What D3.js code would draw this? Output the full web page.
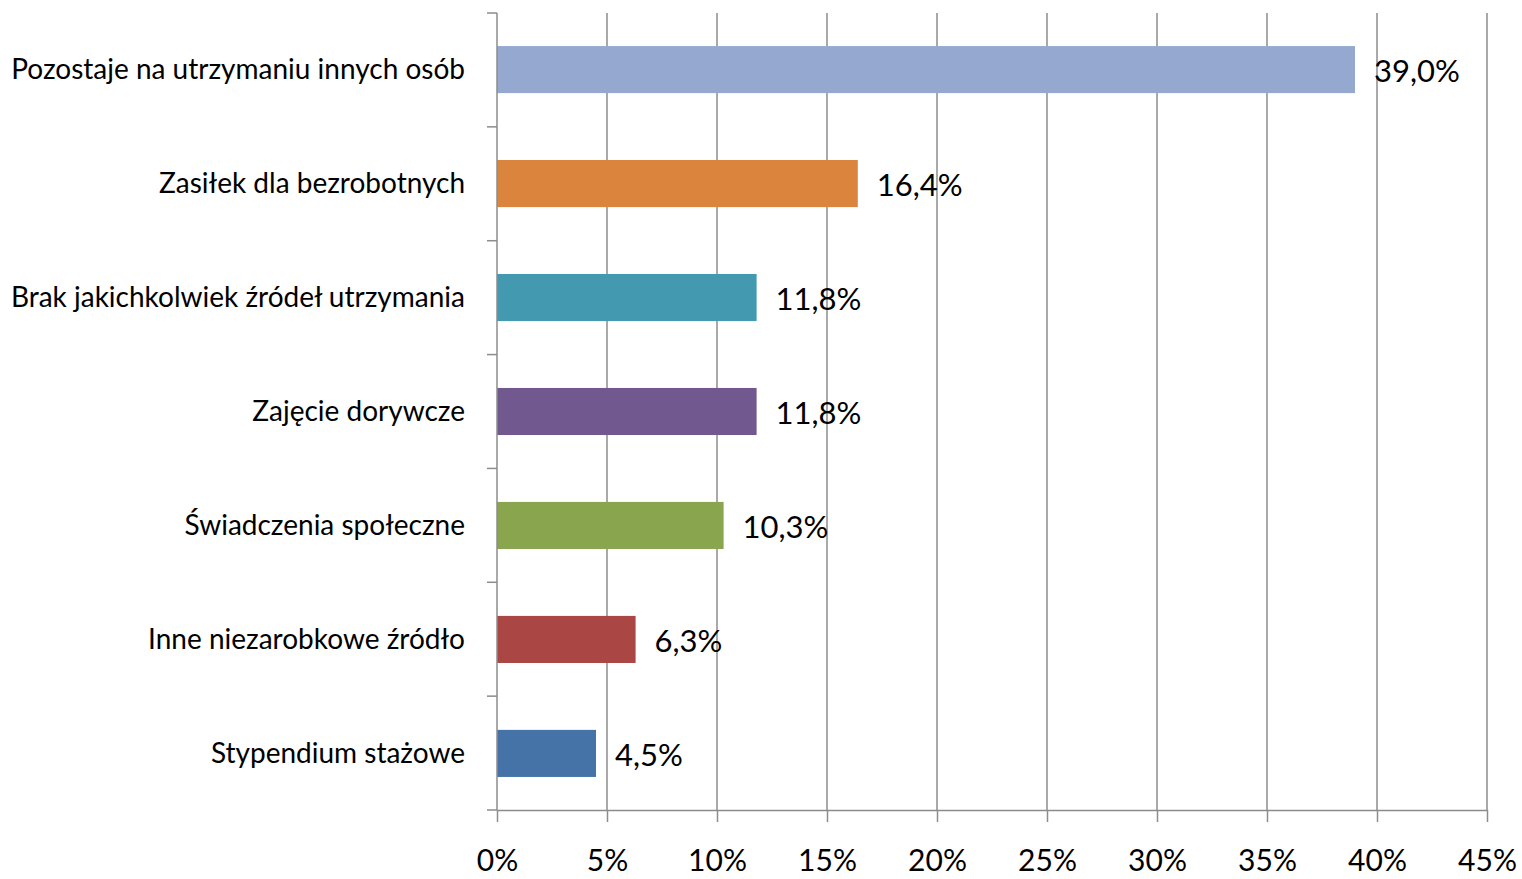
<!DOCTYPE html>
<html><head><meta charset="utf-8">
<script src="https://cdn.jsdelivr.net/npm/d3@7"></script>
<style>body{margin:0;background:#fff}svg{display:block}</style>
</head><body>
<svg id="c" width="1522" height="879"></svg>
<script>
const categories = ["Pozostaje na utrzymaniu innych osób","Zasiłek dla bezrobotnych","Brak jakichkolwiek źródeł utrzymania","Zajęcie dorywcze","Świadczenia społeczne","Inne niezarobkowe źródło","Stypendium stażowe"];
const values = [39.0, 16.4, 11.8, 11.8, 10.3, 6.3, 4.5];
const colors = ["#95A9D0","#DB843D","#4299B0","#71588F","#89A54E","#AA4643","#4572A7"];
const xTicks = [0,5,10,15,20,25,30,35,40,45];

const svg = d3.select("#c");
const font = "Lato, 'Open Sans', sans-serif";
const m = {left:497, right:1487, top:13, bottom:810};
const x = d3.scaleLinear().domain([0,45]).range([m.left, m.right]);
const y = d3.scaleBand().domain(categories).range([m.top, m.bottom]).paddingInner(0.587).paddingOuter(0.29);
const grid = "#8c8c8c";

// gridlines
svg.append("g").selectAll("line").data(xTicks.slice(1)).join("line")
  .attr("x1", d=>x(d)).attr("x2", d=>x(d)).attr("y1", m.top).attr("y2", m.bottom)
  .attr("stroke", grid).attr("stroke-width", 1.5);

// bars
svg.append("g").selectAll("rect").data(values).join("rect")
  .attr("x", x(0)).attr("y", (d,i)=>y(categories[i]))
  .attr("width", d=>x(d)-x(0)).attr("height", y.bandwidth())
  .attr("fill", (d,i)=>colors[i]);

// x axis
const xa = svg.append("g").attr("transform", `translate(0,${m.bottom})`)
  .call(d3.axisBottom(x).tickValues(xTicks).tickSize(12).tickSizeOuter(0).tickPadding(28).tickFormat(d=>d+"%"));
xa.select(".domain").attr("stroke", grid).attr("stroke-width", 1.5);
xa.selectAll(".tick line").attr("stroke", grid).attr("stroke-width", 1.5);
xa.selectAll("text").attr("font-family", font).attr("font-size", 30).attr("fill", "#000");

// y axis
const yTickPos = d3.range(categories.length+1).map(i=>m.top + i*(m.bottom-m.top)/categories.length);
const yg = svg.append("g");
yg.append("line").attr("x1", m.left).attr("x2", m.left).attr("y1", m.top).attr("y2", m.bottom)
  .attr("stroke", grid).attr("stroke-width", 1.5);
yg.selectAll("line.t").data(yTickPos).join("line").attr("class","t")
  .attr("x1", m.left-10).attr("x2", m.left).attr("y1", d=>d).attr("y2", d=>d)
  .attr("stroke", grid).attr("stroke-width", 1.5);
yg.selectAll("text").data(categories).join("text")
  .attr("x", 465).attr("y", d=>y(d)+y.bandwidth()/2)
  .attr("dy","0.35em").attr("text-anchor","end")
  .attr("font-family", font).attr("font-size", 28).attr("fill","#000").text(d=>d);

// value labels
svg.append("g").selectAll("text").data(values).join("text")
  .attr("x", d=>x(d)+19).attr("y", (d,i)=>y(categories[i])+y.bandwidth()/2+2)
  .attr("dy","0.35em").attr("font-family", font).attr("font-size", 31).attr("fill","#000")
  .text(d=>d.toFixed(1).replace(".",",")+"%");
</script>
</body></html>
